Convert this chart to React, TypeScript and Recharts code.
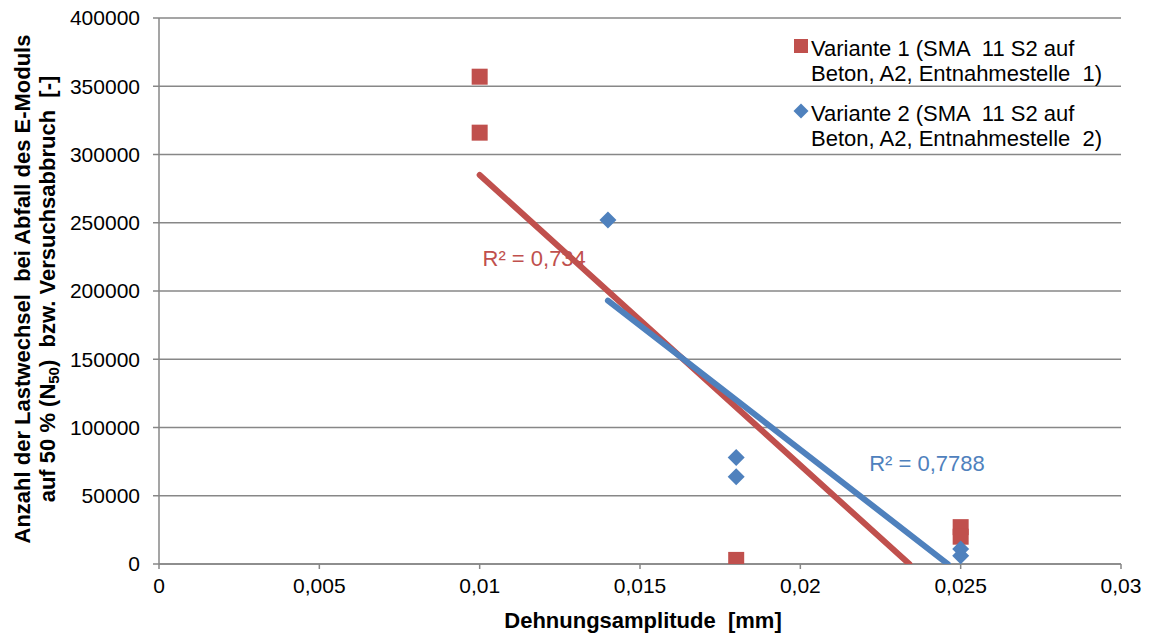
import React from 'react';
import { ScatterChart, Scatter, XAxis, YAxis, CartesianGrid, Legend } from 'recharts';

// axis ticks
const xTicks = [0, 0.005, 0.01, 0.015, 0.02, 0.025, 0.03];
const yTicks = [0, 50000, 100000, 150000, 200000, 250000, 300000, 350000, 400000];

// Variante 1 (red squares)
const v1X = [0.01, 0.01, 0.018, 0.025, 0.025];
const v1Y = [357000, 316000, 3000, 27000, 20000];

// Variante 2 (blue diamonds)
const v2X = [0.014, 0.018, 0.018, 0.025, 0.025];
const v2Y = [252000, 78000, 64000, 11000, 6000];

// linear trend lines, endpoints
const trend1X = [0.01, 0.0234];
const trend1Y = [285000, 0];
const trend2X = [0.014, 0.0246];
const trend2Y = [193000, 0];

// R² annotations
const r2Labels = ['R² = 0,734', 'R² = 0,7788'];
const r2X = [0.0117, 0.02395];
const r2Y = [224000, 73500];

const legendLines = [
  ['Variante 1 (SMA  11 S2 auf', 'Beton, A2, Entnahmestelle  1)'],
  ['Variante 2 (SMA  11 S2 auf', 'Beton, A2, Entnahmestelle  2)'],
];

const RED = '#C0504D';
const BLUE = '#4F81BD';
const GRID = '#878787';
const FONT = '"Liberation Sans", Arial, sans-serif';

const zip = (xs: number[], ys: number[]) => xs.map((x, i) => ({ x, y: ys[i] }));

const v1Data = zip(v1X, v1Y);
const v2Data = zip(v2X, v2Y);
const trend1Data = zip(trend1X, trend1Y);
const trend2Data = zip(trend2X, trend2Y);
const r1Data = [{ x: r2X[0], y: r2Y[0], label: r2Labels[0] }];
const r2Data = [{ x: r2X[1], y: r2Y[1], label: r2Labels[1] }];

const fmt = (v: number) => String(v).replace('.', ',');

const Square = (props: any) => (
  <rect x={props.cx - 8} y={props.cy - 8} width={16} height={16} fill={RED} />
);

const Diamond = (props: any) => {
  const { cx, cy } = props;
  return <path d={`M${cx},${cy - 8.5}L${cx + 8.5},${cy}L${cx},${cy + 8.5}L${cx - 8.5},${cy}Z`} fill={BLUE} />;
};

const makeText = (color: string) => (props: any) => (
  <text x={props.cx} y={props.cy} textAnchor="middle" dominantBaseline="central"
    fill={color} fontSize={22} fontFamily={FONT}>
    {props.payload.label}
  </text>
);

const Nothing = () => <g />;

const LegendBox = () => (
  <div style={{ fontFamily: FONT, fontSize: 22, lineHeight: '25px', color: '#000', whiteSpace: 'pre' }}>
    {legendLines.map((lines, i) => (
      <div key={i} style={{ position: 'relative', paddingLeft: 18, marginBottom: 15 }}>
        <svg width={16} height={16} style={{ position: 'absolute', left: 0, top: 2 }}>
          {i === 0 ? (
            <rect x={1} y={1} width={14} height={14} fill={RED} />
          ) : (
            <path d="M8,0.5L15.5,8L8,15.5L0.5,8Z" fill={BLUE} />
          )}
        </svg>
        {lines.map((l, j) => (
          <div key={j}>{l}</div>
        ))}
      </div>
    ))}
  </div>
);

const YLabel = () => (
  <g fontFamily={FONT} fontSize={22} fontWeight="bold" fill="#000">
    <text x={30} y={289} textAnchor="middle" transform="rotate(-90, 30, 289)" style={{ whiteSpace: 'pre' }}>
      Anzahl der Lastwechsel  bei Abfall des E-Moduls
    </text>
    <text x={55} y={289} textAnchor="middle" transform="rotate(-90, 55, 289)" style={{ whiteSpace: 'pre' }}>
      auf 50 % (N<tspan fontSize={15} dy={4}>50</tspan><tspan dy={-4}>)  bzw. Versuchsabbruch  [-]</tspan>
    </text>
  </g>
);

const XLabel = () => (
  <text x={643} y={628} textAnchor="middle" fontFamily={FONT} fontSize={22} fontWeight="bold" fill="#000"
    style={{ whiteSpace: 'pre' }}>
    Dehnungsamplitude  [mm]
  </text>
);

export default function App() {
  return (
    <div style={{ position: 'fixed', left: 0, top: 0, width: 1156, height: 639, background: '#fff' }}>
      <ScatterChart width={1156} height={639} margin={{ top: 18, right: 35, bottom: 35, left: 79 }}>
        <CartesianGrid horizontal vertical={false} stroke={GRID} strokeWidth={1.5} />
        <XAxis
          type="number"
          dataKey="x"
          domain={[0, 0.03]}
          ticks={xTicks}
          tickFormatter={fmt}
          height={40}
          tickSize={5}
          tickMargin={9}
          axisLine={{ stroke: GRID, strokeWidth: 1.5 }}
          tickLine={{ stroke: GRID, strokeWidth: 1.5 }}
          tick={{ fill: '#000', fontSize: 21, fontFamily: FONT }}
          allowDataOverflow
          label={{ content: () => <XLabel /> }}
        />
        <YAxis
          type="number"
          dataKey="y"
          domain={[0, 400000]}
          ticks={yTicks}
          width={80}
          tickSize={6}
          tickMargin={13}
          axisLine={{ stroke: GRID, strokeWidth: 1.5 }}
          tickLine={{ stroke: GRID, strokeWidth: 1.5 }}
          tick={{ fill: '#000', fontSize: 21, fontFamily: FONT }}
          allowDataOverflow
          label={{ content: () => <YLabel /> }}
        />
        <Legend
          layout="horizontal"
          verticalAlign="middle"
          align="center"
          content={() => <LegendBox />}
          wrapperStyle={{ left: 793, top: 36, width: 350 }}
        />
        <Scatter data={trend1Data} line={{ stroke: RED, strokeWidth: 6, strokeLinecap: 'round' }} shape={Nothing} isAnimationActive={false} legendType="none" />
        <Scatter data={trend2Data} line={{ stroke: BLUE, strokeWidth: 6, strokeLinecap: 'round' }} shape={Nothing} isAnimationActive={false} legendType="none" />
        <Scatter data={v1Data} shape={Square} isAnimationActive={false} />
        <Scatter data={v2Data} shape={Diamond} isAnimationActive={false} />
        <Scatter data={r1Data} shape={makeText(RED)} isAnimationActive={false} legendType="none" />
        <Scatter data={r2Data} shape={makeText(BLUE)} isAnimationActive={false} legendType="none" />
      </ScatterChart>
    </div>
  );
}
